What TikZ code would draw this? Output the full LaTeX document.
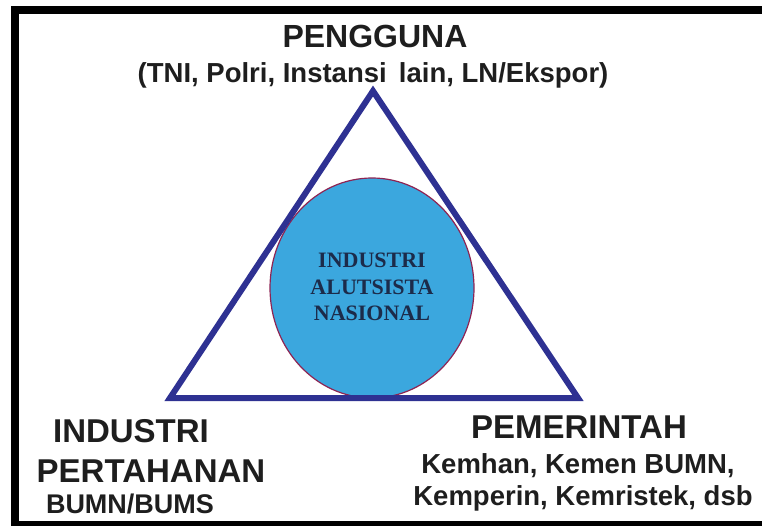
\documentclass[tikz,border=0pt]{standalone}
\usepackage{fontspec}
\setmainfont{Liberation Serif}
\setsansfont{Liberation Sans}
\usepackage{tikz}
\usetikzlibrary{positioning,shapes.geometric}
\definecolor{triblue}{HTML}{2E3192}
\definecolor{discblue}{HTML}{3BA7DE}
\definecolor{discrim}{HTML}{8E2453}
\definecolor{navyink}{HTML}{1C2B4A}
\definecolor{grayink}{HTML}{1E1E1E}

\begin{document}
\begin{tikzpicture}[x=1pt,y=-1pt,every node/.style={inner sep=0pt,text=grayink},
	head/.style={font=\sffamily\bfseries\fontsize{33}{38}\selectfont,anchor=base},
	small/.style={font=\sffamily\bfseries\fontsize{27.5}{32}\selectfont,anchor=base},
	disc/.style={ellipse,draw=discrim,line width=1.2pt,fill=discblue,minimum width=204pt,minimum height=220pt},
	coretext/.style={font=\bfseries\fontsize{22}{26.5}\selectfont,text=navyink,align=center}]
	\useasboundingbox (0,0) rectangle (762,525);
	\draw[line width=8pt] (15,10) rectangle (800,525);

	% centre
	\node[disc] (core) at (372,288) {};
	\node[coretext] (corelabel) at ([yshift=1pt]core.center) {INDUSTRI\\ALUTSISTA\\NASIONAL};

	\coordinate (top) at (373,91);
	\coordinate (bl) at (170,398);
	\coordinate (br) at (578,398);
	\draw[triblue,line width=6pt] (top) -- (bl) -- (br) -- cycle;

	% corners
	\node[head,font=\sffamily\bfseries\fontsize{32}{36}\selectfont] (user) at (375,47) {PENGGUNA};
	\node[small] (userlist) at (373,82) {(TNI, Polri, Instansi\ \,lain, LN/Ekspor)};

	\node[head] (ind1) at (131,442) {INDUSTRI};
	\node[head] (ind2) at (151,482) {PERTAHANAN};
	\node[small,font=\sffamily\bfseries\fontsize{27}{32}\selectfont] (ind3) at (130,513) {BUMN/BUMS};

	\node[head] (gov) at (579,438) {PEMERINTAH};
	\node[small] (gov1) at (578,473) {Kemhan, Kemen BUMN,};
	\node[small] (gov2) at (583,505) {Kemperin, Kemristek, dsb};
\end{tikzpicture}
\end{document}
